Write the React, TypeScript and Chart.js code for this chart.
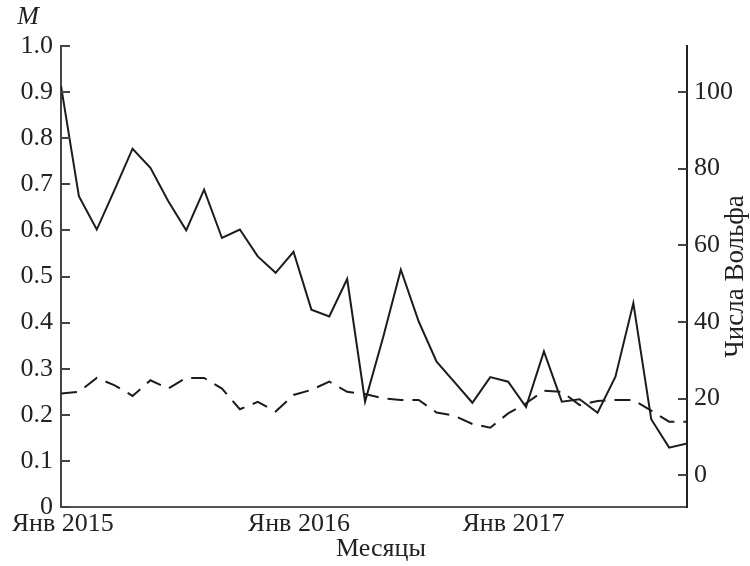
import { useEffect, useRef } from 'react';
import { Chart, registerables } from 'chart.js';

Chart.register(...registerables);

const FONT = "'Liberation Serif', 'Times New Roman', serif";
const FONT_SIZE = 26;

// Months Jan 2015 .. Dec 2017
const months = [
  '2015-01', '2015-02', '2015-03', '2015-04', '2015-05', '2015-06',
  '2015-07', '2015-08', '2015-09', '2015-10', '2015-11', '2015-12',
  '2016-01', '2016-02', '2016-03', '2016-04', '2016-05', '2016-06',
  '2016-07', '2016-08', '2016-09', '2016-10', '2016-11', '2016-12',
  '2017-01', '2017-02', '2017-03', '2017-04', '2017-05', '2017-06',
  '2017-07', '2017-08', '2017-09', '2017-10', '2017-11', '2017-12',
];

// Wolf numbers (right axis, solid line)
const wolfNumbers = [
  101.6, 72.8, 64.1, 74.5, 85.2, 80.2, 71.5, 63.9, 74.5, 61.9, 64.1, 57.1,
  52.8, 58.3, 43.2, 41.4, 51.2, 19.2, 35.8, 53.6, 40.1, 29.6, 24.3, 18.9,
  25.6, 24.4, 17.8, 32.3, 19.2, 19.8, 16.3, 25.7, 44.9, 14.6, 7.2, 8.3,
];

// M (left axis, dashed line)
const mValues = [
  0.246, 0.25, 0.28, 0.264, 0.241, 0.275, 0.257, 0.28, 0.28, 0.257, 0.212, 0.228,
  0.207, 0.243, 0.254, 0.272, 0.25, 0.245, 0.236, 0.232, 0.232, 0.205, 0.198, 0.18,
  0.172, 0.203, 0.225, 0.252, 0.25, 0.221, 0.23, 0.232, 0.232, 0.209, 0.185, 0.185,
];

const xTickValues = [0.1, 13.3, 25.3];
const xTickLabels = ['Янв 2015', 'Янв 2016', 'Янв 2017'];
const leftTickValues = [0, 0.1, 0.2, 0.3, 0.4, 0.5, 0.6, 0.7, 0.8, 0.9, 1.0];
const rightTickValues = [0, 20, 40, 60, 80, 100];

const AXIS_COLOR = '#444';
const LINE_COLOR = '#1c1c1c';
const TEXT_COLOR = '#222';

const inwardTicks = {
  id: 'inwardTicks',
  afterDraw(chart: any) {
    const ctx = chart.ctx;
    const y = chart.scales.y;
    const y1 = chart.scales.y1;
    ctx.save();
    ctx.strokeStyle = AXIS_COLOR;
    ctx.lineWidth = 2;
    ctx.beginPath();
    y.ticks.forEach((t: any) => {
      const py = Math.round(y.getPixelForValue(t.value));
      ctx.moveTo(y.right, py);
      ctx.lineTo(y.right + 9, py);
    });
    y1.ticks.forEach((t: any) => {
      const py = Math.round(y1.getPixelForValue(t.value));
      ctx.moveTo(y1.left - 9, py);
      ctx.lineTo(y1.left, py);
    });
    ctx.stroke();
    ctx.restore();
  },
};

const axisTitles = {
  id: 'axisTitles',
  afterDraw(chart: any) {
    const ctx = chart.ctx;
    const area = chart.chartArea;
    ctx.save();
    ctx.fillStyle = TEXT_COLOR;
    ctx.textAlign = 'center';
    ctx.textBaseline = 'middle';
    ctx.font = `italic ${FONT_SIZE}px ${FONT}`;
    ctx.fillText('M', area.left - 33, area.top - 29);
    ctx.font = `${FONT_SIZE}px ${FONT}`;
    ctx.fillText('Месяцы', (area.left + area.right) / 2 + 7, area.bottom + 42);
    ctx.font = `27px ${FONT}`;
    ctx.translate(area.right + 49, (area.top + area.bottom) / 2);
    ctx.rotate(-Math.PI / 2);
    ctx.fillText('Числа Вольфа', 0, 0);
    ctx.restore();
  },
};

export default function App() {
  const canvasRef = useRef<HTMLCanvasElement | null>(null);

  useEffect(() => {
    document.body.style.margin = '0';
    const canvas = canvasRef.current;
    if (!canvas) return;
    const chart = new Chart(canvas, {
      type: 'line',
      data: {
        datasets: [
          {
            label: 'Числа Вольфа',
            data: wolfNumbers.map((v, i) => ({ x: i, y: v })),
            yAxisID: 'y1',
            borderColor: LINE_COLOR,
            borderWidth: 2,
            pointRadius: 0,
            tension: 0,
            fill: false,
          },
          {
            label: 'M',
            data: mValues.map((v, i) => ({ x: i, y: v })),
            yAxisID: 'y',
            borderColor: LINE_COLOR,
            borderWidth: 2,
            borderDash: [16, 9],
            pointRadius: 0,
            tension: 0,
            fill: false,
          },
        ],
      },
      options: {
        responsive: false,
        animation: false,
        layout: { padding: { top: 46, left: 0, right: 0, bottom: 0 } },
        plugins: {
          legend: { display: false },
          tooltip: { enabled: false },
        },
        scales: {
          x: {
            type: 'linear',
            position: 'bottom',
            min: 0,
            max: months.length - 1,
            afterBuildTicks: (scale: any) => {
              scale.ticks = xTickValues.map((v) => ({ value: v }));
            },
            afterFit: (scale: any) => {
              scale.height = 59;
            },
            ticks: {
              autoSkip: false,
              maxRotation: 0,
              padding: 2,
              color: TEXT_COLOR,
              font: { family: FONT, size: FONT_SIZE },
              callback: (_v: any, i: number) => xTickLabels[i],
            },
            grid: { drawOnChartArea: false, drawTicks: false },
            border: { display: true, color: '#555', width: 2 },
          },
          y: {
            type: 'linear',
            position: 'left',
            min: 0,
            max: 1,
            afterBuildTicks: (scale: any) => {
              scale.ticks = leftTickValues.map((v) => ({ value: v }));
            },
            afterFit: (scale: any) => {
              scale.width = 61;
            },
            ticks: {
              padding: 8,
              color: TEXT_COLOR,
              font: { family: FONT, size: FONT_SIZE },
              callback: (v: any) => (v === 0 ? '0' : Number(v).toFixed(1)),
            },
            grid: { drawOnChartArea: false, drawTicks: false },
            border: { display: true, color: AXIS_COLOR, width: 2 },
          },
          y1: {
            type: 'linear',
            position: 'right',
            min: -8.3,
            max: 112,
            afterBuildTicks: (scale: any) => {
              scale.ticks = rightTickValues.map((v) => ({ value: v }));
            },
            afterFit: (scale: any) => {
              scale.width = 63;
            },
            ticks: {
              padding: 7,
              color: TEXT_COLOR,
              font: { family: FONT, size: FONT_SIZE },
              callback: (v: any) => String(v),
            },
            grid: { drawOnChartArea: false, drawTicks: false },
            border: { display: true, color: '#222', width: 2 },
          },
        },
      },
      plugins: [inwardTicks, axisTitles],
    });
    return () => chart.destroy();
  }, []);

  return (
    <div style={{ position: 'absolute', left: 0, top: 0, width: 750, height: 566, background: '#fff' }}>
      <canvas ref={canvasRef} width={750} height={566} style={{ display: 'block' }} />
    </div>
  );
}
